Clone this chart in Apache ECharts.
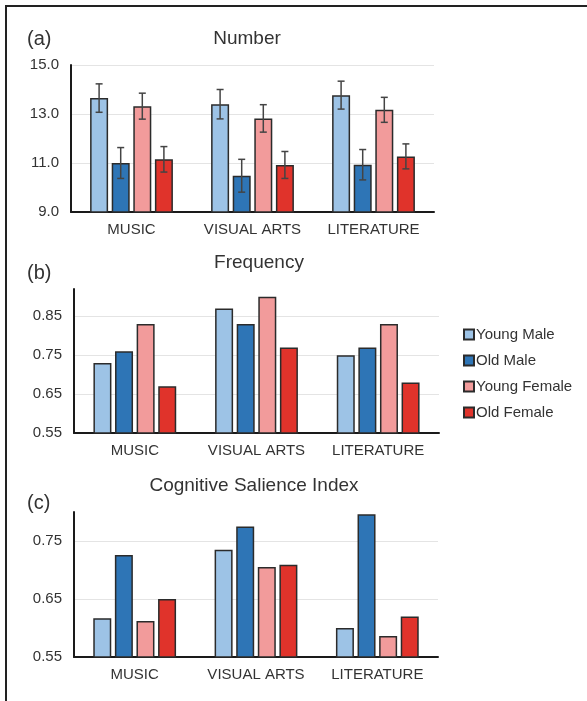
<!DOCTYPE html>
<html>
<head>
<meta charset="utf-8">
<script src="https://cdn.jsdelivr.net/npm/echarts@6/dist/echarts.min.js"></script>
<style>
    body { margin: 0; background: #fff; }
    #chart { position: absolute; left: 0; top: 0; width: 587px; height: 701px; }
    #frame { position: absolute; left: 5px; top: 5px; width: 590px; height: 710px;
             border-left: 2px solid #222; border-top: 2px solid #222; pointer-events: none; }
</style>
</head>
<body>
<div id="chart"></div>
<div id="frame"></div>
<script>
// categories and groups
const categories = ['MUSIC', 'VISUAL ARTS', 'LITERATURE'];
const groupNames = ['Young Male', 'Old Male', 'Young Female', 'Old Female'];
const groupColors = ['#9DC3E6', '#2E75B6', '#F29B9B', '#E0332B'];

// (a) Number: means and error bar half-widths
const numberYoungMale = [13.65, 13.40, 13.77];
const numberOldMale = [11.00, 10.48, 10.93];
const numberYoungFemale = [13.32, 12.82, 13.17];
const numberOldFemale = [11.15, 10.92, 11.27];
const numberErrYoungMale = [0.58, 0.60, 0.57];
const numberErrOldMale = [0.63, 0.67, 0.62];
const numberErrYoungFemale = [0.53, 0.56, 0.51];
const numberErrOldFemale = [0.52, 0.55, 0.51];

// (b) Frequency
const freqYoungMale = [0.73, 0.87, 0.75];
const freqOldMale = [0.76, 0.83, 0.77];
const freqYoungFemale = [0.83, 0.90, 0.83];
const freqOldFemale = [0.67, 0.77, 0.68];

// (c) Cognitive Salience Index
const csiYoungMale = [0.617, 0.735, 0.600];
const csiOldMale = [0.726, 0.775, 0.796];
const csiYoungFemale = [0.612, 0.705, 0.586];
const csiOldFemale = [0.650, 0.709, 0.620];

// tick labels shown on each value axis
const numberTicks = [9, 11, 13, 15];
const freqTicks = [0.55, 0.65, 0.75, 0.85];
const csiTicks = [0.55, 0.65, 0.75];

const FONT = '"Liberation Sans", Arial, sans-serif';
const BAR_WIDTH = 18;
const BAR_GAP = 0.2;

const numberMeans = [numberYoungMale, numberOldMale, numberYoungFemale, numberOldFemale];
const numberErrors = [numberErrYoungMale, numberErrOldMale, numberErrYoungFemale, numberErrOldFemale];
const freqValues = [freqYoungMale, freqOldMale, freqYoungFemale, freqOldFemale];
const csiValues = [csiYoungMale, csiOldMale, csiYoungFemale, csiOldFemale];

let chart = echarts.init(document.getElementById('chart'), null, {renderer: 'canvas'});

/**
 * Value axis: only listed ticks get a label, every other split line is hidden.
 */
function valueAxis(gridIndex, min, max, interval, ticks, digits) {
    return {
        type: 'value',
        gridIndex: gridIndex,
        min: min,
        max: max,
        interval: interval,
        axisLine: {show: true, lineStyle: {color: '#1a1a1a', width: 2}},
        axisTick: {show: false},
        axisLabel: {
            color: '#333',
            fontFamily: FONT,
            fontSize: 15,
            margin: 12,
            formatter: function(v) {
                let hit = ticks.some(function(t) { return Math.abs(t - v) < 1e-6; });
                return hit ? v.toFixed(digits) : '';
            }
        },
        splitLine: {
            show: true,
            showMaxLine: gridIndex !== 1,
            lineStyle: {color: ['#e4e4e4', 'rgba(0,0,0,0)'], width: 1}
        }
    };
}

function categoryAxis(gridIndex) {
    return {
        type: 'category',
        gridIndex: gridIndex,
        data: categories,
        axisLine: {show: true, lineStyle: {color: '#1a1a1a', width: 2}},
        axisTick: {show: false},
        axisLabel: {color: '#333', fontFamily: FONT, fontSize: 15, margin: 10, interval: 0}
    };
}

function barSeries(gridIndex, values) {
    return values.map(function(arr, k) {
        return {
            name: groupNames[k],
            type: 'bar',
            xAxisIndex: gridIndex,
            yAxisIndex: gridIndex,
            barWidth: BAR_WIDTH,
            barGap: (BAR_GAP * 100) + '%',
            z: 2,
            itemStyle: {color: groupColors[k], borderColor: '#2b2b2b', borderWidth: 1.5},
            data: arr
        };
    });
}

// error bar items: [category index, group index, mean, half-width]
let errorData = [];
numberMeans.forEach(function(arr, k) {
    arr.forEach(function(v, i) {
        errorData.push([i, k, v, numberErrors[k][i]]);
    });
});

let errorSeries = {
    type: 'custom',
    xAxisIndex: 0,
    yAxisIndex: 0,
    z: 5,
    silent: true,
    encode: {x: 0, y: 2},
    data: errorData,
    renderItem: function(params, api) {
        let cat = api.value(0), k = api.value(1), v = api.value(2), e = api.value(3);
        let hi = api.coord([cat, v + e]);
        let lo = api.coord([cat, v - e]);
        let step = BAR_WIDTH * (1 + BAR_GAP);
        let x = hi[0] + (k - 1.5) * step;
        let cap = 3.5;
        let style = {stroke: '#444', lineWidth: 1.5};
        return {
            type: 'group',
            children: [
                {type: 'line', shape: {x1: x, y1: hi[1], x2: x, y2: lo[1]}, style: style},
                {type: 'line', shape: {x1: x - cap, y1: hi[1], x2: x + cap, y2: hi[1]}, style: style},
                {type: 'line', shape: {x1: x - cap, y1: lo[1], x2: x + cap, y2: lo[1]}, style: style}
            ]
        };
    }
};

function label(text, x, y, size, align) {
    return {
        type: 'text',
        x: x,
        y: y,
        style: {
            text: text,
            fill: '#333',
            font: size + 'px ' + FONT,
            textAlign: align,
            textVerticalAlign: 'middle'
        }
    };
}

let option = {
    animation: false,
    backgroundColor: '#fff',
    textStyle: {fontFamily: FONT},
    graphic: [
        label('(a)', 27, 39, 20, 'left'),
        label('Number', 247, 39, 19, 'center'),
        label('(b)', 27, 273, 20, 'left'),
        label('Frequency', 259, 263, 19, 'center'),
        label('(c)', 27, 503, 20, 'left'),
        label('Cognitive Salience Index', 254, 486, 19, 'center')
    ],
    legend: {
        data: groupNames,
        orient: 'vertical',
        left: 458,
        top: 322,
        itemWidth: 10,
        itemHeight: 10,
        itemGap: 11,
        icon: 'rect',
        textStyle: {color: '#333', fontFamily: FONT, fontSize: 15, padding: [0, 0, 0, -3]}
    },
    grid: [
        {left: 71, width: 363, top: 65, height: 147},
        {left: 74, width: 365, top: 289, height: 144},
        {left: 74, width: 364, top: 512, height: 145}
    ],
    xAxis: [categoryAxis(0), categoryAxis(1), categoryAxis(2)],
    yAxis: [
        valueAxis(0, 9, 15, 1, numberTicks, 1),
        valueAxis(1, 0.55, 0.92, 0.05, freqTicks, 2),
        valueAxis(2, 0.55, 0.8, 0.05, csiTicks, 2)
    ],
    series: [].concat(
        barSeries(0, numberMeans),
        barSeries(1, freqValues),
        barSeries(2, csiValues),
        [errorSeries]
    )
};

chart.setOption(option);
</script>
</body>
</html>
